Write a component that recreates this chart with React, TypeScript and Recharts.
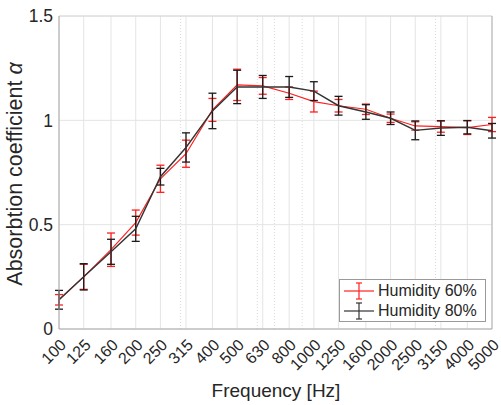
import React from 'react';
import { LineChart, Line, XAxis, YAxis, CartesianGrid, ErrorBar, ReferenceLine, Legend } from 'recharts';

// third-octave band centres (Hz)
const freqs = [100, 125, 160, 200, 250, 315, 400, 500, 630, 800, 1000, 1250, 1600, 2000, 2500, 3150, 4000, 5000];
const alpha60 = [0.14, 0.25, 0.38, 0.51, 0.72, 0.84, 1.05, 1.17, 1.165, 1.13, 1.09, 1.07, 1.053, 1.01, 0.973, 0.97, 0.965, 0.98];
const err60 = [0.025, 0.06, 0.08, 0.06, 0.065, 0.065, 0.055, 0.075, 0.04, 0.03, 0.05, 0.03, 0.025, 0.02, 0.02, 0.027, 0.033, 0.034];
const alpha80 = [0.14, 0.25, 0.37, 0.48, 0.73, 0.87, 1.045, 1.16, 1.16, 1.16, 1.14, 1.07, 1.04, 1.01, 0.952, 0.963, 0.967, 0.95];
const err80 = [0.045, 0.063, 0.06, 0.06, 0.04, 0.07, 0.085, 0.08, 0.055, 0.05, 0.045, 0.045, 0.035, 0.03, 0.045, 0.035, 0.032, 0.035];
const yTicks = [0, 0.5, 1, 1.5];
const minorX = [300, 600, 700, 900, 3000];

const FONT = '"Liberation Sans", Arial, Helvetica, sans-serif';
const RED = '#ff2020';
const DARK = '#333333';

const data = freqs.map((f, i) => ({
  f,
  a60: alpha60[i],
  e60: err60[i],
  a80: alpha80[i],
  e80: err80[i],
}));

const series = [
  { name: 'Humidity 60%', color: RED },
  { name: 'Humidity 80%', color: DARK },
];

const FreqTick = ({ x, y, payload }: any) => {
  const tx = x + 8;
  const ty = y + 17;
  return (
    <text x={tx} y={ty} textAnchor="end" transform={`rotate(-45, ${tx}, ${ty})`} fontSize={16} fill="#262626" fontFamily={FONT}>
      {payload.value}
    </text>
  );
};

const LegendBox = () => (
  <div style={{ width: 147, height: 43, boxSizing: 'border-box', border: '1px solid #9a9a9a', background: '#fff', paddingTop: 1, fontFamily: FONT, fontSize: 16, color: '#262626' }}>
    {series.map((s) => (
      <div key={s.name} style={{ display: 'flex', alignItems: 'center', height: 20 }}>
        <svg width={38} height={20} style={{ flex: 'none' }}>
          <line x1={4} x2={34} y1={10} y2={10} stroke={s.color} strokeWidth={1.2} />
          <line x1={19} x2={19} y1={2} y2={18} stroke={s.color} strokeWidth={1.2} />
          <line x1={16} x2={22} y1={2} y2={2} stroke={s.color} strokeWidth={1.2} />
          <line x1={16} x2={22} y1={18} y2={18} stroke={s.color} strokeWidth={1.2} />
        </svg>
        <span style={{ whiteSpace: 'nowrap' }}>{s.name}</span>
      </div>
    ))}
  </div>
);

export default function App() {
  return (
    <div style={{ position: 'absolute', left: 0, top: 0, width: 501, height: 405, background: '#fff' }}>
      <LineChart width={501} height={405} data={data} margin={{ top: 16, right: 9, bottom: 0, left: 0 }}>
        <CartesianGrid stroke="#e4e4e4" strokeWidth={1} />
        {minorX.map((m) => (
          <ReferenceLine key={m} x={m} stroke="#dadada" strokeDasharray="1 2" />
        ))}
        <ReferenceLine y={1.5} stroke="#d8d8d8" />
        <ReferenceLine x={5000} stroke="#b0b0b0" />
        <XAxis
          dataKey="f"
          type="number"
          scale="log"
          domain={[100, 5000]}
          ticks={freqs}
          interval={0}
          allowDataOverflow
          height={76}
          tickLine={false}
          tickSize={0}
          tickMargin={0}
          axisLine={{ stroke: '#a8a8a8' }}
          tick={<FreqTick />}
          label={{
            content: () => (
              <text x={276} y={397} textAnchor="middle" fontSize={19} fill="#262626" fontFamily={FONT}>
                Frequency [Hz]
              </text>
            ),
          }}
        />
        <YAxis
          type="number"
          domain={[0, 1.5]}
          ticks={yTicks}
          width={59}
          tickLine={false}
          tickSize={0}
          tickMargin={6}
          axisLine={{ stroke: '#a8a8a8' }}
          tick={{ fontSize: 17.5, fill: '#262626', fontFamily: FONT }}
          label={{
            content: () => (
              <text x={22} y={174} transform="rotate(-90, 22, 174)" textAnchor="middle" fontSize={21.5} fill="#262626" fontFamily={FONT}>
                Absorbtion coefficient <tspan fontStyle="italic">α</tspan>
              </text>
            ),
          }}
        />
        <Legend layout="horizontal" verticalAlign="middle" align="center" content={<LegendBox />} wrapperStyle={{ left: 339, top: 279, width: 147, height: 43 }} />
        <Line dataKey="a60" name="Humidity 60%" stroke={RED} strokeWidth={1.2} dot={false} isAnimationActive={false}>
          <ErrorBar dataKey="e60" direction="y" width={4} stroke={RED} strokeWidth={1.3} />
        </Line>
        <Line dataKey="a80" name="Humidity 80%" stroke={DARK} strokeWidth={1.4} dot={false} isAnimationActive={false}>
          <ErrorBar dataKey="e80" direction="y" width={4} stroke="#1a1a1a" strokeWidth={1.3} />
        </Line>
      </LineChart>
    </div>
  );
}
